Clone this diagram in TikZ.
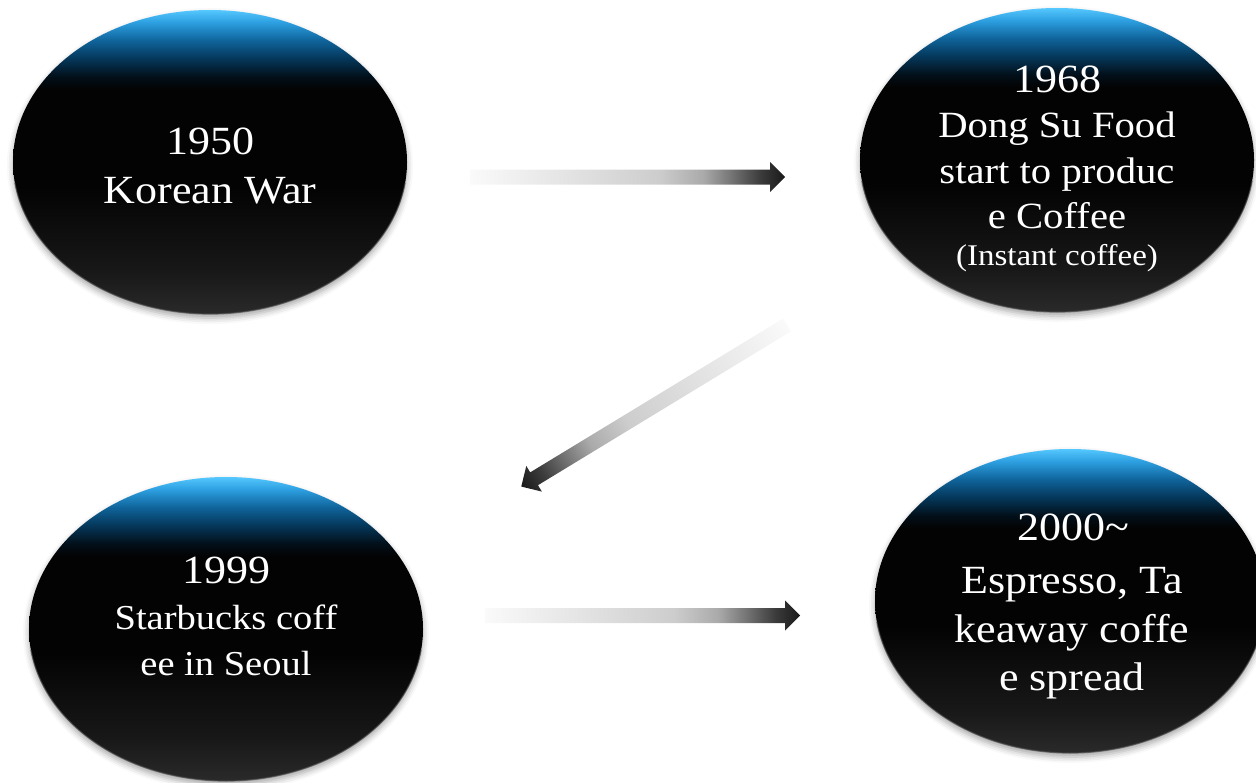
\documentclass[tikz,border=0pt]{standalone}
\usepackage{fontspec}
\setmainfont{Liberation Serif}[FakeStretch=1.1]
\usetikzlibrary{shapes.geometric,shadows.blur,calc}
\definecolor{orbtop}{RGB}{85,200,255}
\definecolor{orbb1}{RGB}{45,160,225}
\definecolor{orbb2}{RGB}{15,100,155}
\definecolor{orbb3}{RGB}{5,55,90}
\definecolor{orbb4}{RGB}{2,15,25}
\definecolor{orbblack}{RGB}{3,3,3}
\definecolor{orbgray}{RGB}{24,24,24}
\definecolor{orbbot}{RGB}{42,42,42}
\pgfdeclareverticalshading{orbshade}{100bp}{color(0bp)=(orbbot); color(25bp)=(orbbot); color(32bp)=(orbgray); color(46bp)=(orbblack); color(62bp)=(orbblack); color(64bp)=(orbb4); color(67bp)=(orbb3); color(70bp)=(orbb2); color(73bp)=(orbb1); color(75bp)=(orbtop); color(100bp)=(orbtop)}
\definecolor{ag0}{RGB}{250,250,250}
\definecolor{ag1}{RGB}{228,228,228}
\definecolor{ag2}{RGB}{205,205,205}
\definecolor{ag3}{RGB}{170,170,170}
\definecolor{ag4}{RGB}{110,110,110}
\definecolor{ag5}{RGB}{60,60,60}
\definecolor{ag6}{RGB}{25,25,25}
\pgfdeclarehorizontalshading{arrshade}{100bp}{color(0bp)=(ag0); color(25bp)=(ag0); color(40bp)=(ag1); color(55bp)=(ag2); color(62bp)=(ag3); color(67bp)=(ag4); color(71bp)=(ag5); color(75bp)=(ag6); color(100bp)=(ag6)}
\begin{document}
\begin{tikzpicture}[x=1pt,y=-1pt,
  orb/.style={ellipse, minimum width=394pt, minimum height=304pt, inner sep=0pt,
    shading=orbshade,
    blur shadow={shadow xshift=0pt, shadow yshift=-4pt, shadow blur radius=6pt, shadow opacity=35}},
  rim/.style={draw=gray!60!black, line width=1.2pt, opacity=0.7},
  txt/.style={text=white, anchor=base, inner sep=0pt},
  big/.style={txt, font=\fontsize{40}{48}\selectfont},
  mid/.style={txt, font=\fontsize{37}{45}\selectfont},
  sml/.style={txt, font=\fontsize{30}{36}\selectfont},
  garrow/.style={shading=arrshade, draw=none}]
\useasboundingbox (0,0) rectangle (1256,782);

% ellipses
\node[orb] (e1) at (210,162) {};
\node[orb] (e2) at (1057,160) {};
\node[orb] (e3) at (226,629) {};
\node[orb, minimum width=390pt] (e4) at (1070,601) {};

% lower rims
\draw[rim] ($(e1.center)+(8:197 and 152)$) arc[start angle=8, end angle=172, x radius=197, y radius=152];
\draw[rim] ($(e2.center)+(8:197 and 152)$) arc[start angle=8, end angle=172, x radius=197, y radius=152];
\draw[rim] ($(e3.center)+(8:197 and 152)$) arc[start angle=8, end angle=172, x radius=197, y radius=152];
\draw[rim] ($(e4.center)+(8:195 and 152)$) arc[start angle=8, end angle=172, x radius=195, y radius=152];

% texts
\node[big] (a1) at (210,154) {1950};
\node[big] (a2) at (210,203) {Korean War};

\node[big] (b1) at (1057,92) {1968};
\node[mid] (b2) at (1057,137) {Dong Su Food};
\node[mid] (b3) at (1057,183) {start to produc};
\node[mid] (b4) at (1057,228) {e Coffee};
\node[sml] (b5) at (1057,265) {(Instant coffee)};

\node[big] (c1) at (226,583) {1999};
\node[txt, font=\fontsize{35}{42}\selectfont] (c2) at (226,629) {Starbucks coff};
\node[txt, font=\fontsize{35}{42}\selectfont] (c3) at (226,675) {ee in Seoul};

\node[big] (d1) at (1073,540) {2000\textasciitilde};
\node[big] (d2) at (1072,593) {Espresso, Ta};
\node[big] (d3) at (1072,642) {keaway coffe};
\node[big] (d4) at (1072,690) {e spread};

% arrows
\coordinate (t1) at (470,177);
\coordinate (t2) at (787,325);
\coordinate (t3) at (485,615.5);
\begin{scope}[transform canvas={shift={(t1)}}]
  \shade[garrow] (0,-7.5) -- (300,-7.5) -- (300,-15) -- (315,0) -- (300,15) -- (300,7.5) -- (0,7.5) -- cycle;
\end{scope}
\begin{scope}[transform canvas={shift={(t2)}, rotate=211.3}]
  \shade[garrow] (0,-7.5) -- (296,-7.5) -- (296,-15) -- (311,0) -- (296,15) -- (296,7.5) -- (0,7.5) -- cycle;
\end{scope}
\begin{scope}[transform canvas={shift={(t3)}}]
  \shade[garrow] (0,-7.5) -- (300,-7.5) -- (300,-15) -- (315,0) -- (300,15) -- (300,7.5) -- (0,7.5) -- cycle;
\end{scope}
\end{tikzpicture}
\end{document}
